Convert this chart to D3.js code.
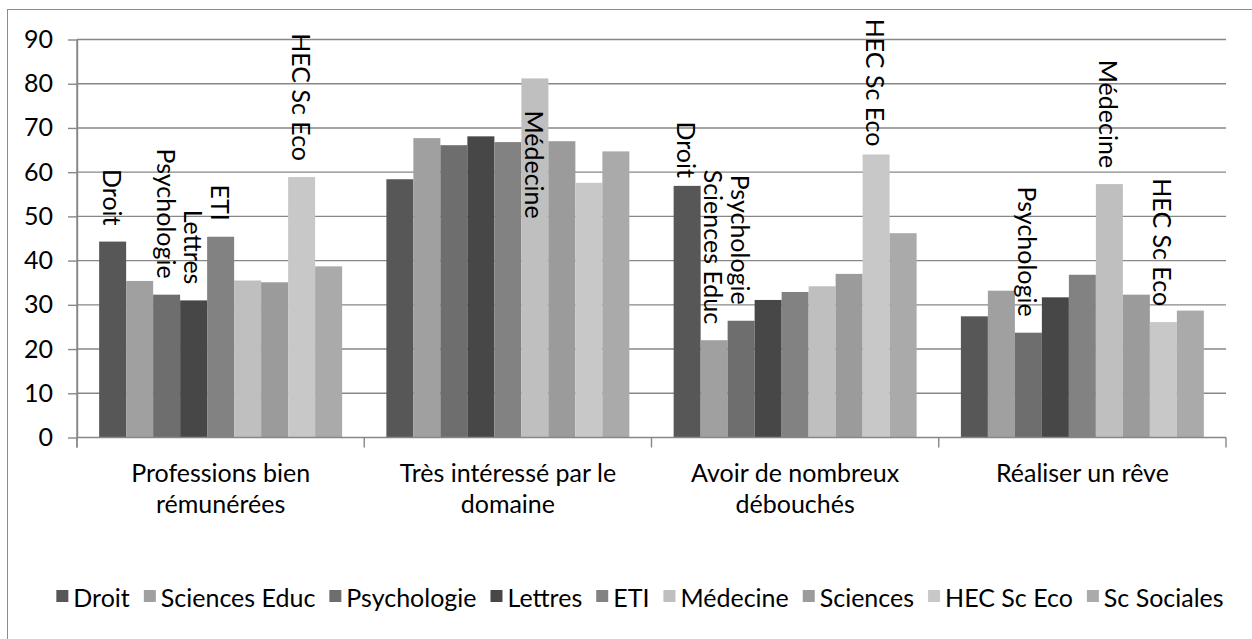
<!DOCTYPE html>
<html><head><meta charset="utf-8">
<script src="https://cdn.jsdelivr.net/npm/d3@7"></script>
<style>
html,body{margin:0;padding:0;background:#fff;}
svg{display:block;}
text{font-family:Lato,"Open Sans",sans-serif;fill:#000;}
</style></head>
<body>
<svg id="chart" width="1252" height="639"></svg>
<script>
// ---------- data ----------
const categories = [
  ["Professions bien", "rémunérées"],
  ["Très intéressé par le", "domaine"],
  ["Avoir de nombreux", "débouchés"],
  ["Réaliser un rêve"]
];
const seriesNames = ["Droit","Sciences Educ","Psychologie","Lettres","ETI","Médecine","Sciences","HEC Sc Eco","Sc Sociales"];
const droit        = [44.3, 58.4, 56.9, 27.4];
const sciencesEduc = [35.4, 67.7, 22.0, 33.2];
const psychologie  = [32.3, 66.1, 26.4, 23.7];
const lettres      = [31.0, 68.1, 31.1, 31.7];
const eti          = [45.4, 66.8, 32.9, 36.8];
const medecine     = [35.5, 81.2, 34.2, 57.3];
const sciences     = [35.1, 67.0, 37.0, 32.3];
const hecScEco     = [58.9, 57.6, 64.0, 26.1];
const scSociales   = [38.7, 64.7, 46.2, 28.7];
const yTicks = [0,10,20,30,40,50,60,70,80,90];
// data labels shown: [series index, category index, placement]
const dataLabels = [
  [0,0,"out"],[2,0,"out"],[3,0,"out"],[4,0,"out"],[7,0,"out"],
  [5,1,"in"],
  [0,2,"outNear"],[1,2,"out"],[2,2,"out"],[7,2,"outNear"],
  [2,3,"out"],[5,3,"out"],[7,3,"out"]
];

const values = [droit, sciencesEduc, psychologie, lettres, eti, medecine, sciences, hecScEco, scSociales];
const colors = ["#575757","#a0a0a0","#6e6e6e","#474747","#828282","#bfbfbf","#9b9b9b","#c8c8c8","#aaaaaa"];

// ---------- layout ----------
const FS = 25;
const plot = {left:77, right:1226, top:39.5, bottom:437.5};
const svg = d3.select("#chart");

// outer border
svg.append("rect").attr("x",7.5).attr("y",9.5).attr("width",1300).attr("height",700)
  .attr("fill","none").attr("stroke","#8c8c8c").attr("stroke-width",1);

const y = d3.scaleLinear().domain([0,90]).range([plot.bottom, plot.top]);
const x0 = d3.scaleBand().domain(d3.range(categories.length)).range([plot.left, plot.right]).padding(0);
const x1 = d3.scaleBand().domain(d3.range(seriesNames.length)).range([0, x0.bandwidth()])
  .paddingInner(0).paddingOuter(0.82);

// gridlines
svg.append("g").selectAll("line").data(yTicks.filter(t=>t>0)).join("line")
  .attr("x1",plot.left).attr("x2",plot.right)
  .attr("y1",d=>y(d)).attr("y2",d=>y(d))
  .attr("stroke","#878787").attr("stroke-width",1.4);

// bars
const g = svg.append("g");
values.forEach((vals,si)=>{
  g.selectAll(null).data(vals).join("rect")
    .attr("x",(d,ci)=>x0(ci)+x1(si))
    .attr("width",x1.bandwidth())
    .attr("y",d=>y(d))
    .attr("height",d=>y(0)-y(d))
    .attr("fill",colors[si]);
});

// y axis
const yAxis = d3.axisLeft(y).tickValues(yTicks).tickSize(9).tickSizeOuter(0).tickPadding(15);
const ya = svg.append("g").attr("transform",`translate(${plot.left},0)`).call(yAxis);
ya.select(".domain").attr("stroke","#878787").attr("stroke-width",1.4);
ya.selectAll(".tick line").attr("stroke","#878787").attr("stroke-width",1.4);
ya.selectAll(".tick text").attr("font-size",FS).attr("font-family","Lato").attr("fill","#000");

// x axis baseline + ticks at group boundaries
svg.append("line").attr("x1",plot.left).attr("x2",plot.right).attr("y1",y(0)).attr("y2",y(0))
  .attr("stroke","#878787").attr("stroke-width",1.4);
svg.append("line").attr("x1",plot.left).attr("x2",plot.left).attr("y1",plot.top).attr("y2",y(0)+10)
  .attr("stroke","#878787").attr("stroke-width",1.4);
svg.append("g").selectAll("line").data(d3.range(categories.length+1)).join("line")
  .attr("x1",i=>plot.left + i*x0.step()).attr("x2",i=>plot.left + i*x0.step())
  .attr("y1",y(0)).attr("y2",y(0)+10)
  .attr("stroke","#878787").attr("stroke-width",1.4);

// category labels
const cl = svg.append("g").selectAll("text").data(categories).join("text")
  .attr("text-anchor","middle").attr("font-size",FS)
  .attr("x",(d,i)=>x0(i)+x0.bandwidth()/2).attr("y",482);
cl.selectAll("tspan").data(d=>d).join("tspan")
  .attr("x",function(){return this.parentNode.getAttribute("x");})
  .attr("dy",(d,i)=>i===0?0:31).text(d=>d);

// data labels (rotated)
const gap = {out:16, outNear:8, in:-32};
svg.append("g").selectAll("text").data(dataLabels).join("text")
  .attr("font-size",FS)
  .attr("text-anchor",d=>d[2]==="in"?"start":"end")
  .attr("dominant-baseline","central")
  .attr("transform",d=>{
    const cx = x0(d[1]) + x1(d[0]) + x1.bandwidth()/2;
    const cy = y(values[d[0]][d[1]]) - gap[d[2]];
    return `translate(${cx},${cy}) rotate(90)`;
  })
  .text(d=>seriesNames[d[0]]);

// legend
const lg = svg.append("g");
const sq = 12, sqGap = 5, itemGap = 14;
const items = lg.selectAll("g").data(seriesNames).join("g");
items.append("rect").attr("width",sq).attr("height",sq).attr("y",-sq/2-1).attr("fill",(d,i)=>colors[i]);
items.append("text").attr("x",sq+sqGap).attr("font-size",FS).attr("dominant-baseline","central").text(d=>d);
let cursor = 0;
const offs = [];
items.each(function(){
  const w = d3.select(this).select("text").node().getComputedTextLength();
  offs.push(cursor);
  cursor += sq + sqGap + w + itemGap;
});
const total = cursor - itemGap;
const startX = 640 - total/2;
items.attr("transform",(d,i)=>`translate(${startX+offs[i]},597)`);
</script>
</body></html>
